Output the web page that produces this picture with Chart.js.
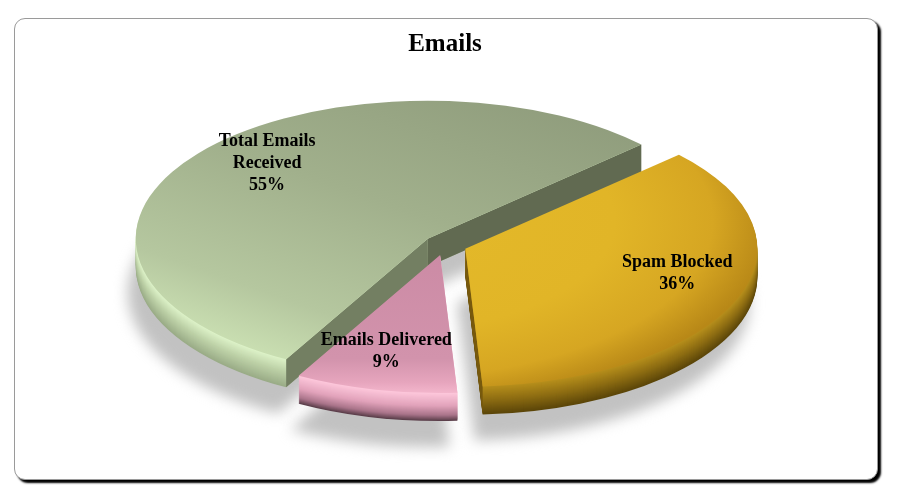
<!DOCTYPE html>
<html><head><meta charset="utf-8">
<script src="https://cdn.jsdelivr.net/npm/chart.js@4.4.1/dist/chart.umd.min.js"></script>
<style>
html,body{margin:0;padding:0;background:#fff;width:903px;height:503px;overflow:hidden}
#frame{position:absolute;left:14px;top:18px;width:862px;height:460px;border:1px solid #9a9a9a;border-radius:11px;background:#fff;box-shadow:3px 3px 2px #000}
#wrap{position:absolute;left:0;top:0;width:903px;height:503px}
</style></head><body>
<div id="frame"></div>
<div id="wrap"><canvas id="c" width="903" height="503"></canvas></div>
<script>
// ---- data ----
const categories = ["Total Emails Received", "Spam Blocked", "Emails Delivered"];
const percentValues = [55, 36, 9];
const labelLines = [["Total Emails", "Received"], ["Spam Blocked"], ["Emails Delivered"]];
const chartTitle = "Emails";

// ---- style ----
const FONT = "'Liberation Serif', 'DejaVu Serif', serif";
const ROTATION = 209;          // degrees, start of first slice
const RX = 292, RY = 138;      // projected ellipse radii (px)
const DEPTH = 28;              // slice thickness (px)
const EXPLODE = 0.075;         // explosion as fraction of radius
const PERSP = 0.15;            // label perspective factor
const SHADOW_DX = -8, SHADOW_DY = 54;
const WALL = [
  [[0, '#dcf1c7'], [0.45, '#bdd1a7'], [1, '#9aac87']],
  [[0, '#b48d1b'], [0.5, '#8b6b12'], [1, '#5c4609']],
  [[0, '#fcc6da'], [0.45, '#e2a3bb'], [0.8, '#a9748a'], [1, '#5c3f4b']]
];
const FACE = [
  { start: '#737f62', end: '#616a51' },
  { start: '#8a6a12', end: '#77590d' },
  { start: '#b07a90', end: '#b07a90' }
];

function hexToRgb(h){ return [parseInt(h.slice(1,3),16), parseInt(h.slice(3,5),16), parseInt(h.slice(5,7),16)]; }
function mixStops(stops, t){
  for (let k = 1; k < stops.length; k++) {
    if (t <= stops[k][0]) {
      const [t0, c0] = stops[k-1], [t1, c1] = stops[k];
      const f = (t - t0) / (t1 - t0 || 1);
      const a = hexToRgb(c0), b = hexToRgb(c1);
      return 'rgb(' + a.map((v, j) => Math.round(v + (b[j] - v) * f)).join(',') + ')';
    }
  }
  return stops[stops.length-1][1];
}

function topFill(context){
  const chart = context.chart, area = chart.chartArea;
  const base = ['#a3b28e', '#e2b627', '#cf8fa8'][context.dataIndex];
  if (!area) return base;
  const c = chart.ctx;
  const cx = (area.left + area.right) / 2, cy = (area.top + area.bottom) / 2;
  const R = Math.min(area.width, area.height) / 2;
  let g;
  if (context.dataIndex === 0) {
    g = c.createLinearGradient(cx + 0.5*R, cy - R, cx - 0.8*R, cy + 0.75*R);
    g.addColorStop(0, '#8f9c7c'); g.addColorStop(0.45, '#a1b08c');
    g.addColorStop(0.8, '#b5c79f'); g.addColorStop(1, '#cde3b5');
  } else if (context.dataIndex === 1) {
    g = c.createRadialGradient(cx - 0.3*R, cy - 0.2*R, 0, cx - 0.3*R, cy - 0.2*R, 1.35*R);
    g.addColorStop(0, '#e4ba2a'); g.addColorStop(0.6, '#e1b527');
    g.addColorStop(0.85, '#d6a622'); g.addColorStop(1, '#b88817');
  } else {
    g = c.createLinearGradient(cx, cy, cx, cy + R);
    g.addColorStop(0, '#cc8ba5'); g.addColorStop(0.75, '#d293ac');
    g.addColorStop(0.92, '#e6a5bd'); g.addColorStop(1, '#f3b6cc');
  }
  return g;
}

const pie3d = {
  id: 'pie3d',
  beforeDatasetsDraw(chart) {
    const ctx = chart.ctx;
    const arcs = chart.getDatasetMeta(0).data;
    if (!arcs.length) return false;
    const cx = arcs[0].x, cy = arcs[0].y, R = arcs[0].outerRadius;
    const sx = RX / R, sy = RY / R, ex = EXPLODE * R;
    const info = arcs.map((a, i) => {
      const mid = (a.startAngle + a.endAngle) / 2;
      return { a, i, mid, ox: Math.cos(mid) * ex, oy: Math.sin(mid) * ex };
    });
    const apply = (o, dx, dy) => { ctx.translate(cx + dx, cy + dy); ctx.scale(sx, sy); ctx.translate(-cx + o.ox, -cy + o.oy); };
    const slicePath = (o) => { ctx.beginPath(); ctx.moveTo(cx, cy); ctx.arc(cx, cy, R, o.a.startAngle, o.a.endAngle); ctx.closePath(); };
    const proj = (o, r, ang, d) => [cx + sx * (o.ox + r * Math.cos(ang)), cy + sy * (o.oy + r * Math.sin(ang)) + d];

    // shadow
    ctx.save();
    ctx.filter = 'blur(7px)';
    ctx.fillStyle = '#c2c2c2';
    info.forEach(o => { ctx.save(); apply(o, SHADOW_DX, SHADOW_DY); slicePath(o); ctx.fill(); ctx.restore(); });
    ctx.restore();

    const order = info.slice().sort((p, q) => Math.sin(p.mid) - Math.sin(q.mid));
    for (const o of order) {
      // side walls (stacked layers)
      for (let d = DEPTH; d >= 1; d--) {
        ctx.save(); apply(o, 0, d); slicePath(o);
        ctx.fillStyle = mixStops(WALL[o.i], (d - 1) / (DEPTH - 1));
        ctx.fill(); ctx.restore();
      }
      // radial cut faces
      const faces = [
        { ang: o.a.startAngle, normal: o.a.startAngle - Math.PI / 2, color: FACE[o.i].start },
        { ang: o.a.endAngle, normal: o.a.endAngle + Math.PI / 2, color: FACE[o.i].end }
      ];
      for (const f of faces) {
        if (Math.sin(f.normal) <= 0) continue;
        const p0 = proj(o, 0, f.ang, 0), p1 = proj(o, R, f.ang, 0);
        ctx.save();
        ctx.beginPath();
        ctx.moveTo(p0[0], p0[1]); ctx.lineTo(p1[0], p1[1]);
        ctx.lineTo(p1[0], p1[1] + DEPTH); ctx.lineTo(p0[0], p0[1] + DEPTH);
        ctx.closePath();
        ctx.fillStyle = f.color; ctx.fill();
        ctx.restore();
      }
      // top face drawn by the library's arc element
      ctx.save(); apply(o, 0, 0); o.a.draw(ctx); ctx.restore();
    }

    // data labels
    ctx.save();
    ctx.fillStyle = '#000';
    ctx.font = 'bold 18px ' + FONT;
    ctx.textAlign = 'center';
    ctx.textBaseline = 'middle';
    info.forEach(o => {
      const r = 0.75 * R;
      const s = 1 + PERSP * (r / R) * Math.sin(o.mid);
      const px = cx + sx * (o.ox + r * s * Math.cos(o.mid));
      const py = cy + sy * (o.oy + r * s * Math.sin(o.mid)) - 16;
      const lines = labelLines[o.i].concat([percentValues[o.i] + '%']);
      const lh = 22;
      lines.forEach((t, k) => ctx.fillText(t, px, py + (k - (lines.length - 1) / 2) * lh));
    });
    ctx.restore();
    return false;
  }
};

new Chart(document.getElementById('c'), {
  type: 'pie',
  data: {
    labels: categories,
    datasets: [{ data: percentValues, backgroundColor: topFill, borderWidth: 0, hoverOffset: 0, offset: 0 }]
  },
  options: {
    responsive: false,
    animation: false,
    events: [],
    rotation: ROTATION,
    layout: { padding: { left: 0, right: 13, top: 0, bottom: 73 } },
    plugins: {
      legend: { display: false },
      tooltip: { enabled: false },
      title: {
        display: true, text: chartTitle, color: '#000',
        font: { family: FONT, size: 25, weight: 'bold' },
        padding: { top: 30, bottom: 0 }
      }
    }
  },
  plugins: [pie3d]
});
</script>
</body></html>
